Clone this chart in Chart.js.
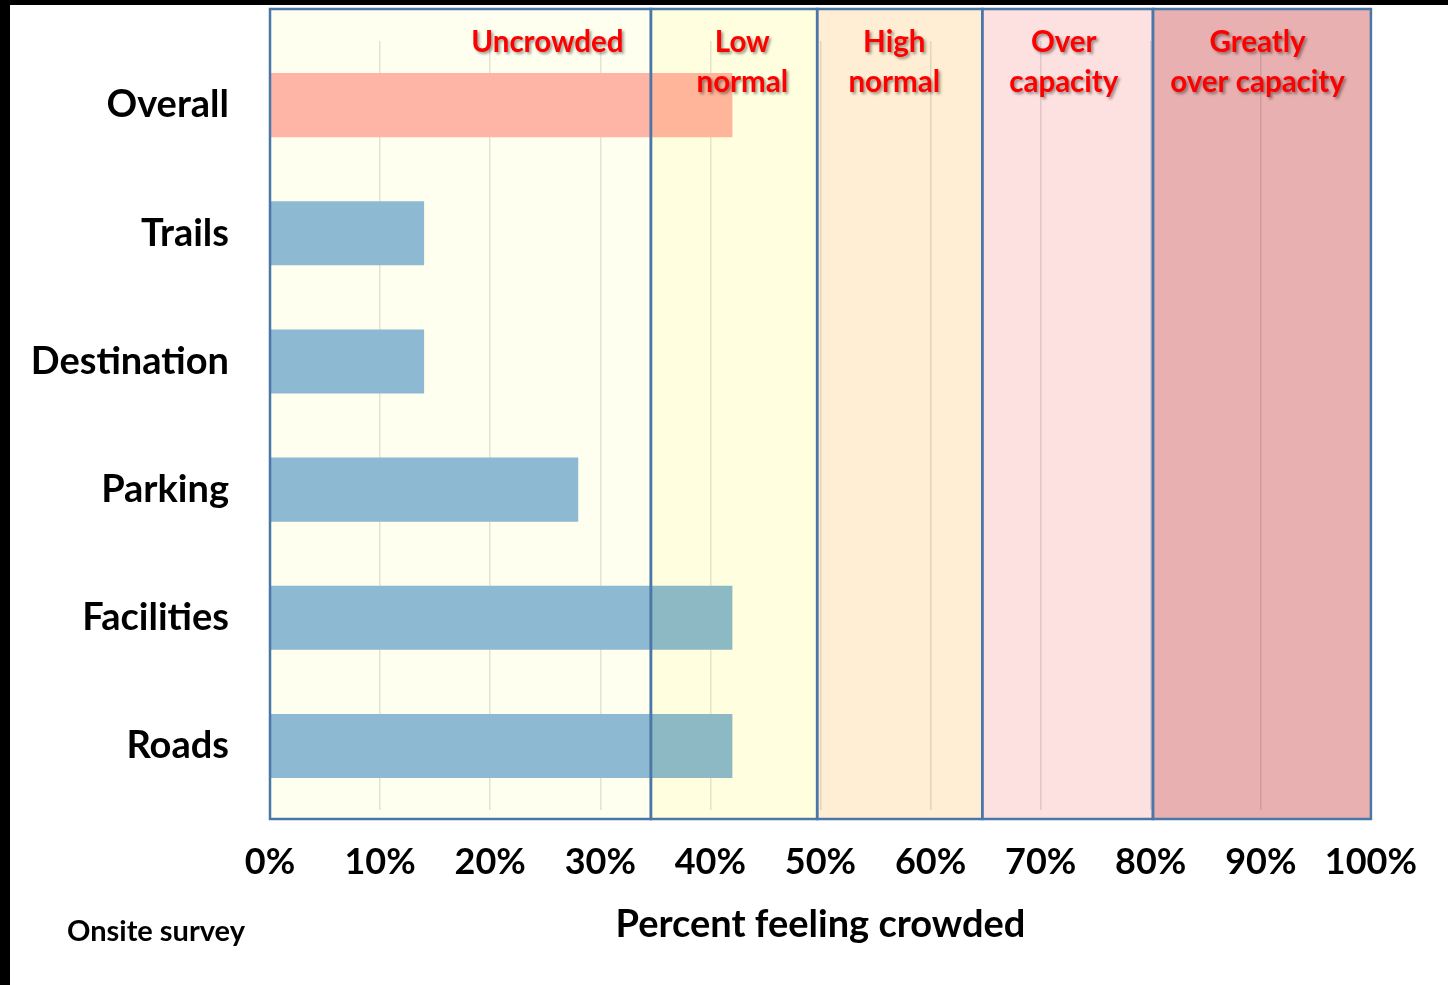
<!DOCTYPE html>
<html>
<head>
<meta charset="utf-8">
<script src="https://cdn.jsdelivr.net/npm/chart.js@4.4.1/dist/chart.umd.min.js"></script>
<style>
  html, body { margin: 0; padding: 0; background: #000; width: 1448px; height: 985px; overflow: hidden; }
  #wrap { position: absolute; left: 10px; top: 5px; width: 1438px; height: 980px; background: #fff; }
</style>
</head>
<body>
<div id="wrap"><canvas id="grafico" width="1438" height="980"></canvas></div>
<script>
// dados
const categorias = ['Overall', 'Trails', 'Destination', 'Parking', 'Facilities', 'Roads'];
const valores = [42, 14, 14, 28, 42, 42];
const limitesZonas = [0, 34.6, 49.7, 64.7, 80.2, 100];
const rotulosZonas = [['Uncrowded'], ['Low', 'normal'], ['High', 'normal'], ['Over', 'capacity'], ['Greatly', 'over capacity']];
const posRotulosZonas = [25.2, 42.9, 56.7, 72.1, 89.7];

const coresZonas = ['#FFFFF0', '#FFFFE0', '#FFEED3', '#FDE0E0', '#E8B0B0'];
const coresBarras = ['#FFB5AF', '#8DB9DF', '#8DB9DF', '#8DB9DF', '#8DB9DF', '#8DB9DF'];
const fonte = 'Lato';

const zonasPlugin = {
    id: 'zonas',
    afterDatasetsDraw(chart) {
        const ctx = chart.ctx;
        const x = chart.scales.x;
        const top = 4, bottom = 814;
        ctx.save();
        // fundo das zonas (multiplica por cima das barras e da grade)
        ctx.globalCompositeOperation = 'multiply';
        for (let i = 0; i < coresZonas.length; i++) {
            const x0 = x.getPixelForValue(limitesZonas[i]);
            const x1 = x.getPixelForValue(limitesZonas[i + 1]);
            ctx.fillStyle = coresZonas[i];
            ctx.fillRect(x0, top, x1 - x0, bottom - top);
        }
        ctx.globalCompositeOperation = 'source-over';
        ctx.strokeStyle = '#4A76A8';
        ctx.lineWidth = 2.5;
        for (let i = 0; i < coresZonas.length; i++) {
            const x0 = x.getPixelForValue(limitesZonas[i]);
            const x1 = x.getPixelForValue(limitesZonas[i + 1]);
            ctx.strokeRect(x0, top, x1 - x0, bottom - top);
        }
        // rótulos das zonas
        ctx.font = 'bold 29.5px ' + fonte;
        ctx.textAlign = 'center';
        ctx.textBaseline = 'middle';
        ctx.fillStyle = '#FF0000';
        ctx.shadowColor = 'rgba(0,0,0,0.4)';
        ctx.shadowOffsetX = 2;
        ctx.shadowOffsetY = 2;
        ctx.shadowBlur = 3;
        rotulosZonas.forEach((linhas, i) => {
            const cx = x.getPixelForValue(posRotulosZonas[i]);
            linhas.forEach((t, j) => ctx.fillText(t, cx, 37 + j * 40));
        });
        ctx.restore();
        // nota de rodapé
        ctx.save();
        ctx.font = 'bold 29px ' + fonte;
        ctx.fillStyle = '#000';
        ctx.textAlign = 'left';
        ctx.textBaseline = 'middle';
        ctx.fillText('Onsite survey', 57, 927);
        ctx.restore();
    }
};

new Chart(document.getElementById('grafico'), {
    type: 'bar',
    data: {
        labels: categorias,
        datasets: [{
            data: valores,
            backgroundColor: coresBarras,
            borderWidth: 0,
            categoryPercentage: 1,
            barPercentage: 0.5
        }]
    },
    options: {
        indexAxis: 'y',
        responsive: false,
        animation: false,
        layout: { padding: { left: 0, right: 77, top: 36, bottom: 0 } },
        plugins: {
            legend: { display: false },
            tooltip: { enabled: false }
        },
        scales: {
            x: {
                min: 0,
                max: 100,
                border: { display: false },
                grid: { color: 'rgba(0,0,0,0.11)', lineWidth: 1.5, drawTicks: false },
                ticks: {
                    stepSize: 10,
                    padding: 31,
                    color: '#000',
                    font: { family: fonte, weight: 'bold', size: 36 },
                    callback: v => v + '%'
                },
                title: {
                    display: true,
                    text: 'Percent feeling crowded',
                    color: '#000',
                    font: { family: fonte, weight: 'bold', size: 38 },
                    padding: { top: 0, bottom: 37 }
                },
                afterFit: s => { s.height = 175; }
            },
            y: {
                border: { display: false },
                grid: { display: false, drawTicks: false },
                ticks: {
                    padding: 41,
                    color: '#000',
                    font: { family: fonte, weight: 'bold', size: 38 }
                },
                afterFit: s => { s.width = 260; s.paddingTop = 0; s.paddingBottom = 0; }
            }
        }
    },
    plugins: [zonasPlugin]
});
</script>
</body>
</html>
